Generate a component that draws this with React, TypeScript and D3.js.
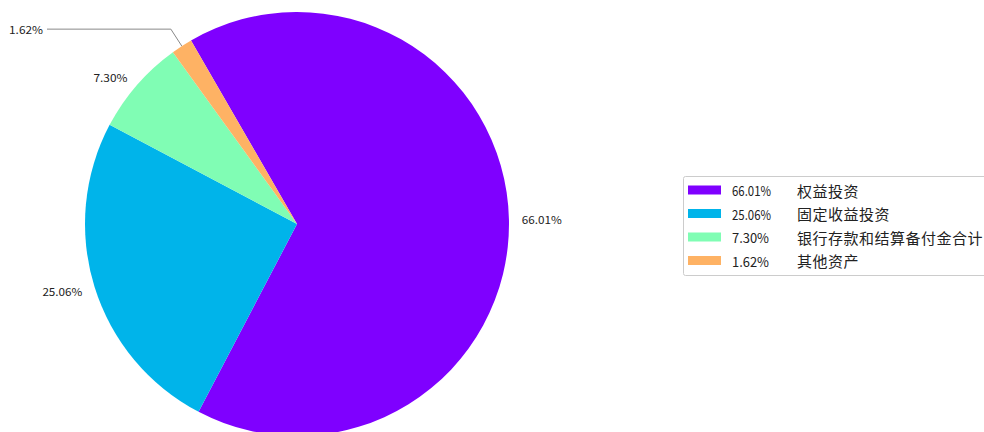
import React from "react";
import * as d3 from "d3";

const categories = ["权益投资", "固定收益投资", "银行存款和结算备付金合计", "其他资产"];
const values = [66.01, 25.06, 7.3, 1.62];
const pctLabels = ["66.01%", "25.06%", "7.30%", "1.62%"];
const colors = ["#7f00ff", "#00b4ea", "#80fdb4", "#feb264"];

const W = 984;
const H = 432;
const cx = 297;
const cy = 224;
const R = 212;

export default function App() {
  const pie = d3
    .pie<number>()
    .sort(null)
    .startAngle(-Math.PI / 6)
    .endAngle(2 * Math.PI - Math.PI / 6)
    .value((d) => d);
  const arcs = pie(values);
  const arcGen = d3.arc<d3.PieArcDatum<number>>().innerRadius(0).outerRadius(R);

  const legendY = d3.scaleLinear().domain([0, 3]).range([190, 260.5]);

  return (
    <svg
      width={W}
      height={H}
      style={{ position: "absolute", left: 0, top: 0, background: "#fff" }}
      fontFamily="'Noto Sans CJK SC', sans-serif"
    >
      <g transform={`translate(${cx},${cy})`}>
        {arcs.map((a, i) => (
          <path key={i} d={arcGen(a) || ""} fill={colors[i]} />
        ))}
        {arcs.map((a, i) => {
          const mid = (a.startAngle + a.endAngle) / 2;
          const sx = Math.sin(mid);
          const sy = -Math.cos(mid);
          if (i === 3) {
            const ex = R * sx;
            const ey = R * sy;
            const bx = R * 1.095 * sx;
            const by = R * 1.095 * sy;
            const endX = -250;
            return (
              <g key={i}>
                <polyline
                  points={`${ex},${ey} ${bx},${by} ${endX},${by}`}
                  fill="none"
                  stroke="#888"
                  strokeWidth={1}
                />
                <text
                  x={endX - 4}
                  y={by}
                  fontSize={11}
                  textAnchor="end"
                  dominantBaseline="central"
                  fill="#222"
                  textLength={34}
                  lengthAdjust="spacingAndGlyphs"
                >
                  {pctLabels[i]}
                </text>
              </g>
            );
          }
          const lr = R * 1.06;
          const x = lr * sx;
          const y = lr * sy;
          return (
            <text
              key={i}
              x={x}
              y={y}
              fontSize={11}
              textAnchor={x >= 0 ? "start" : "end"}
              dominantBaseline="central"
              fill="#222"
              textLength={pctLabels[i].length > 5 ? 40 : 34}
              lengthAdjust="spacingAndGlyphs"
            >
              {pctLabels[i]}
            </text>
          );
        })}
      </g>
      <g>
        <rect
          x={683.5}
          y={176.5}
          width={320}
          height={99}
          rx={2}
          fill="#fff"
          stroke="#cccccc"
          strokeWidth={1}
        />
        {categories.map((c, i) => {
          const y = legendY(i);
          return (
            <g key={i}>
              <rect x={688} y={y - 4.5} width={33} height={9} fill={colors[i]} />
              <text
                x={732}
                y={y}
                fontSize={13.5}
                dominantBaseline="central"
                fill="#222"
                textLength={pctLabels[i].length > 5 ? 39 : 37}
                lengthAdjust="spacingAndGlyphs"
              >
                {pctLabels[i]}
              </text>
              <text x={797} y={y} fontSize={15} dominantBaseline="central" fill="#222" letterSpacing={0.5}>
                {c}
              </text>
            </g>
          );
        })}
      </g>
    </svg>
  );
}
